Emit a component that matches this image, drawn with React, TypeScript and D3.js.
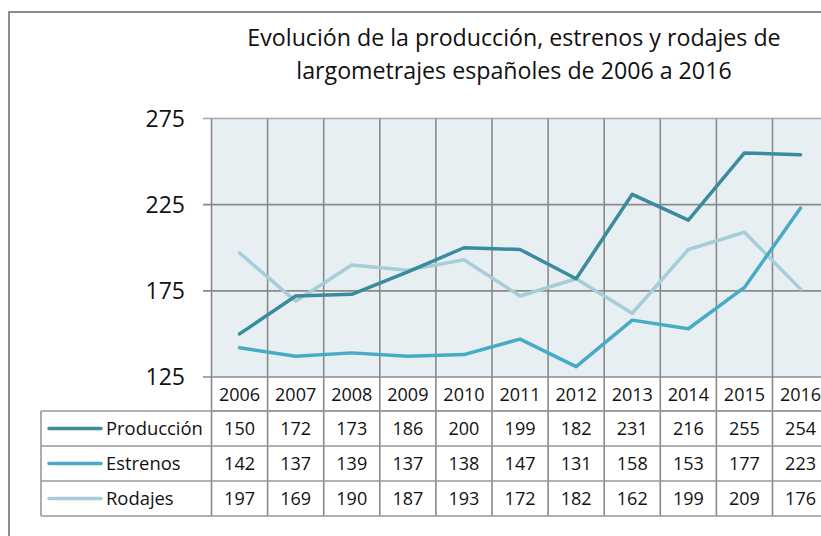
import React from "react";
import * as d3 from "d3";

const years = ["2006", "2007", "2008", "2009", "2010", "2011", "2012", "2013", "2014", "2015", "2016"];
const produccion = [150, 172, 173, 186, 200, 199, 182, 231, 216, 255, 254];
const estrenos = [142, 137, 139, 137, 138, 147, 131, 158, 153, 177, 223];
const rodajes = [197, 169, 190, 187, 193, 172, 182, 162, 199, 209, 176];
const yTicks = [125, 175, 225, 275];
const titleLines = ["Evolución de la producción, estrenos y rodajes de", "largometrajes españoles de 2006 a 2016"];

const series = [
  { name: "Producción", values: produccion, color: "#3a8b9d" },
  { name: "Estrenos", values: estrenos, color: "#48abc5" },
  { name: "Rodajes", values: rodajes, color: "#a6cdd9" },
];

const W = 821;
const H = 536;
const FONT = "'Open Sans', sans-serif";

export default function App() {
  // plot area, same column grid carries on down into the data table
  const left = 211.5;
  const colW = 56.1;
  const top = 118.5;
  const bottom = 377;
  const headerH = 34;
  const rowH = 35;
  const legendLeft = 41;

  const x = d3.scaleBand().domain(years).range([left, left + colW * years.length]);
  const y = d3.scaleLinear().domain([125, 275]).range([bottom, top]);
  const right = x.range()[1];
  const line = d3.line<number>()
    .x((d, i) => x(years[i])! + x.bandwidth() / 2)
    .y((d) => y(d));

  const tableTop = bottom;
  const rowsTop = tableTop + headerH;
  const tableBottom = rowsTop + rowH * series.length;
  const grid = "#8a8a8a";

  return (
    <svg width={W} height={H} style={{ position: "absolute", left: 0, top: 0 }} fontFamily={FONT}>
      <rect x={0} y={0} width={W} height={H} fill="#fff" />
      {/* chart border */}
      <rect x={9} y={12} width={W + 20} height={H + 20} fill="none" stroke="#8c8c8c" strokeWidth={2} />

      {titleLines.map((t, i) => (
        <text key={i} x={514} y={46 + i * 33} textAnchor="middle" fontSize={23.2} fill="#111">{t}</text>
      ))}

      <rect x={left} y={top} width={right - left} height={bottom - top} fill="#e7eff3" />

      {yTicks.map((t) => (
        <g key={t}>
          <line x1={203} x2={right} y1={y(t)} y2={y(t)} stroke={t === 275 ? "#a8a8a8" : grid} strokeWidth={1.6} />
          <text x={185} y={y(t) + 8} textAnchor="end" fontSize={23} fill="#111">{t}</text>
        </g>
      ))}

      {/* vertical grid: plot + table columns */}
      {years.map((yr) => (
        <line key={yr} x1={x(yr)} x2={x(yr)} y1={top} y2={tableBottom} stroke={grid} strokeWidth={1.6} />
      ))}
      <line x1={right} x2={right} y1={top} y2={tableBottom} stroke={grid} strokeWidth={1.6} />

      {/* table rows */}
      <line x1={left} x2={right} y1={rowsTop} y2={rowsTop} stroke="#999" strokeWidth={1.6} />
      {series.map((s, i) => (
        <line key={s.name} x1={legendLeft} x2={right} y1={rowsTop + rowH * (i + 1)} y2={rowsTop + rowH * (i + 1)} stroke="#999" strokeWidth={1.6} />
      ))}
      <line x1={legendLeft} x2={right} y1={rowsTop} y2={rowsTop} stroke="#999" strokeWidth={1.6} />
      <line x1={legendLeft} x2={legendLeft} y1={rowsTop} y2={tableBottom} stroke="#999" strokeWidth={1.6} />

      {years.map((yr) => (
        <text key={yr} x={x(yr)! + x.bandwidth() / 2} y={tableTop + headerH / 2 + 6.5} textAnchor="middle" fontSize={18} fill="#111">{yr}</text>
      ))}

      {series.map((s, i) => {
        const cy = rowsTop + rowH * i + rowH / 2;
        return (
          <g key={s.name}>
            <line x1={49} x2={101} y1={cy} y2={cy} stroke={s.color} strokeWidth={3.5} strokeLinecap="round" />
            <text x={106} y={cy + 6.5} fontSize={18.4} fill="#111">{s.name}</text>
            {s.values.map((v, j) => (
              <text key={j} x={x(years[j])! + x.bandwidth() / 2} y={cy + 6.5} textAnchor="middle" fontSize={18} fill="#111">{v}</text>
            ))}
          </g>
        );
      })}

      {/* series lines, light first so the darker ones sit on top */}
      {[...series].reverse().map((s) => (
        <path key={s.name} d={line(s.values)!} fill="none" stroke={s.color} strokeWidth={3.5} strokeLinejoin="round" strokeLinecap="round" />
      ))}
    </svg>
  );
}
